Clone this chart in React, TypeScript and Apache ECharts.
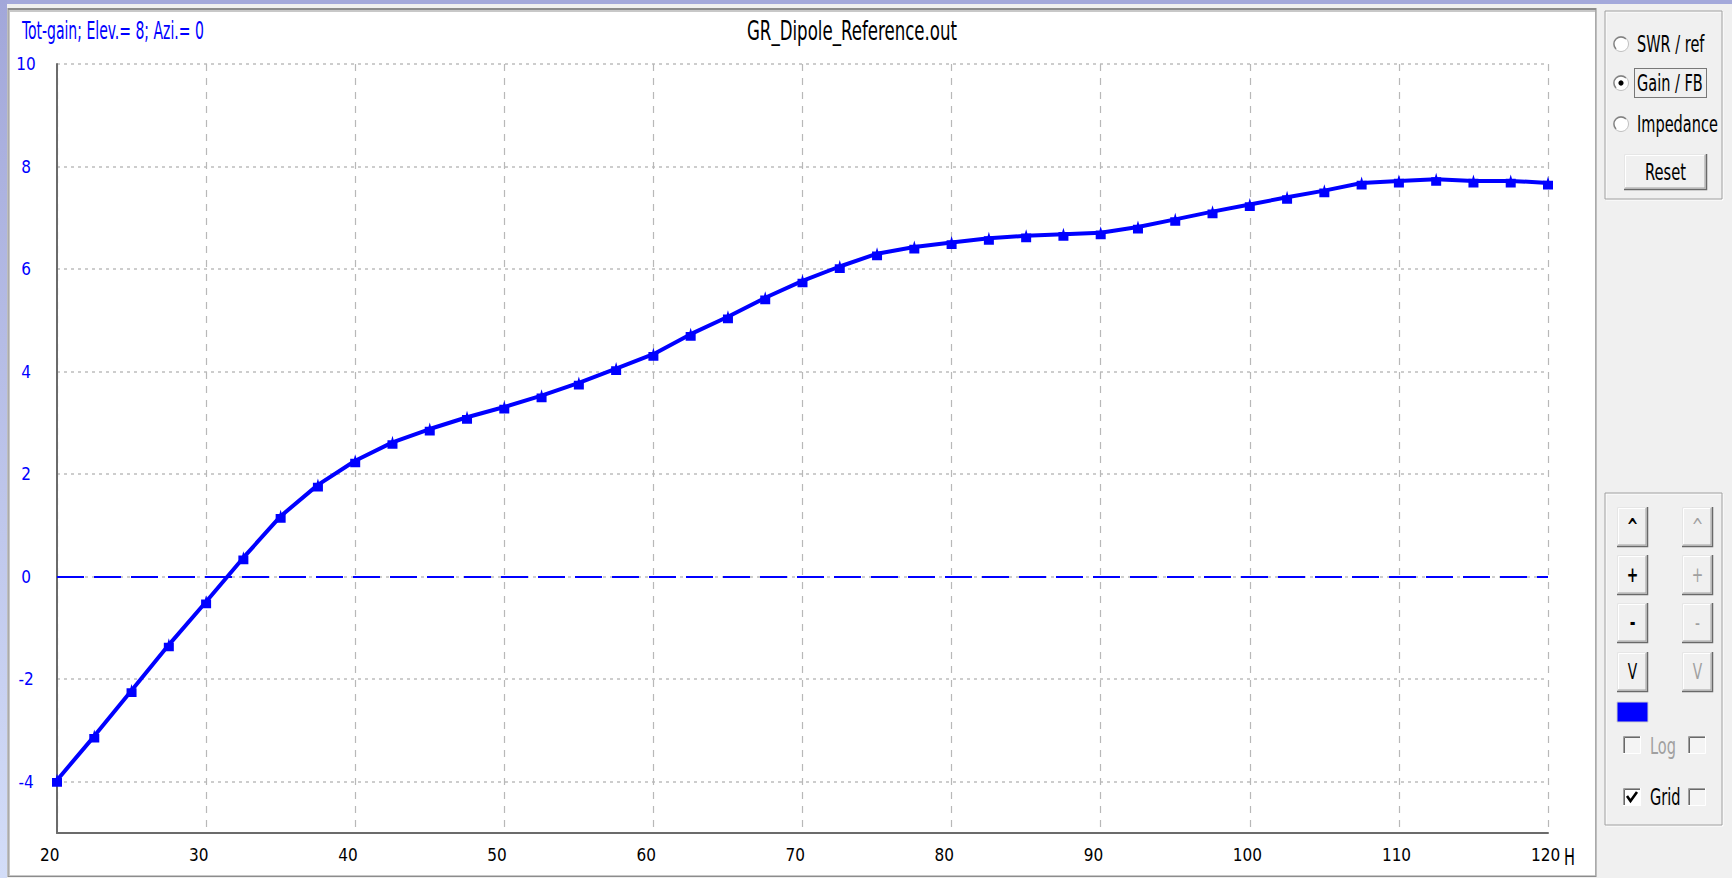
import React, { useEffect, useRef } from "react";
import * as echarts from "echarts";

const frequencies = [20, 22.5, 25, 27.5, 30, 32.5, 35, 37.5, 40, 42.5, 45, 47.5, 50, 52.5, 55, 57.5, 60, 62.5, 65, 67.5, 70, 72.5, 75, 77.5, 80, 82.5, 85, 87.5, 90, 92.5, 95, 97.5, 100, 102.5, 105, 107.5, 110, 112.5, 115, 117.5, 120];
const gainValues = [-3.97, -3.11, -2.22, -1.33, -0.49, 0.37, 1.18, 1.79, 2.26, 2.62, 2.88, 3.11, 3.31, 3.53, 3.78, 4.06, 4.34, 4.73, 5.07, 5.44, 5.77, 6.05, 6.3, 6.43, 6.52, 6.6, 6.65, 6.68, 6.71, 6.82, 6.97, 7.12, 7.26, 7.4, 7.53, 7.68, 7.72, 7.75, 7.72, 7.72, 7.68];
const referenceLine = [0];
const xRange = [20, 120];
const yRange = [-5, 10];
const titleText = "GR_Dipole_Reference.out";
const subtitleText = "Tot-gain; Elev.= 8; Azi.= 0";
const xUnit = "H";
const radioLabels = ["SWR / ref", "Gain / FB", "Impedance"];
const leftButtons = ["^", "+", "-", "V"];
const checkLabels = ["Log", "Grid"];

const FONT = "'Liberation Sans Narrow', 'DejaVu Sans Condensed', 'Arial Narrow', sans-serif";

function txt(text: string, x: number, y: number, opts: any = {}) {
  const align = opts.align || "left";
  return {
    type: "text",
    x,
    y,
    scaleX: opts.scaleX ?? 0.86,
    scaleY: opts.scaleY ?? 1.25,
    z: 20,
    style: {
      text,
      fill: opts.fill || "#000000",
      fontSize: opts.fontSize || 19,
      fontFamily: FONT,
      fontWeight: opts.fontWeight || "normal",
      align,
      verticalAlign: "middle",
      textAlign: align,
      textVerticalAlign: "middle",
    },
  };
}

function bevel(x: number, y: number, w: number, h: number) {
  return [
    { type: "rect", z: 15, shape: { x, y, width: w, height: h }, style: { fill: "#f0f0f0" } },
    { type: "polyline", z: 16, shape: { points: [[x + 0.5, y + h - 1], [x + 0.5, y + 0.5], [x + w - 1, y + 0.5]] }, style: { stroke: "#e6e6e6", lineWidth: 1, fill: null } },
    { type: "polyline", z: 16, shape: { points: [[x + 1.5, y + h - 2], [x + 1.5, y + 1.5], [x + w - 2, y + 1.5]] }, style: { stroke: "#ffffff", lineWidth: 1, fill: null } },
    { type: "polyline", z: 16, shape: { points: [[x, y + h - 0.5], [x + w - 0.5, y + h - 0.5], [x + w - 0.5, y]] }, style: { stroke: "#696969", lineWidth: 1.5, fill: null } },
    { type: "polyline", z: 16, shape: { points: [[x + 1, y + h - 2], [x + w - 2, y + h - 2], [x + w - 2, y + 1]] }, style: { stroke: "#a0a0a0", lineWidth: 1, fill: null } },
  ];
}

function checkbox(x: number, y: number, checked: boolean, enabled: boolean) {
  const s = 18;
  const els: any[] = [
    { type: "rect", z: 15, shape: { x, y, width: s, height: s }, style: { fill: enabled ? "#ffffff" : "#f4f4f4" } },
    { type: "polyline", z: 16, shape: { points: [[x + 0.5, y + s], [x + 0.5, y + 0.5], [x + s, y + 0.5]] }, style: { stroke: "#a0a0a0", lineWidth: 1, fill: null } },
    { type: "polyline", z: 16, shape: { points: [[x + 1.5, y + s - 1], [x + 1.5, y + 1.5], [x + s - 1, y + 1.5]] }, style: { stroke: "#696969", lineWidth: 1, fill: null } },
    { type: "polyline", z: 16, shape: { points: [[x, y + s - 0.5], [x + s - 0.5, y + s - 0.5], [x + s - 0.5, y]] }, style: { stroke: "#ffffff", lineWidth: 1, fill: null } },
  ];
  if (checked) {
    els.push({ type: "polyline", z: 17, shape: { points: [[x + 4, y + 8], [x + 7.5, y + 13], [x + 14, y + 4]] }, style: { stroke: "#000000", lineWidth: 2.6, fill: null } });
  }
  return els;
}

function radio(cx: number, cy: number, selected: boolean) {
  const els: any[] = [
    { type: "circle", z: 15, shape: { cx, cy, r: 7.5 }, style: { fill: "#ffffff", stroke: "#c0c0c0", lineWidth: 1 } },
    { type: "arc", z: 16, shape: { cx, cy, r: 7, startAngle: Math.PI * 0.75, endAngle: Math.PI * 1.75 }, style: { stroke: "#808080", lineWidth: 1.3, fill: null } },
  ];
  if (selected) {
    els.push({ type: "circle", z: 17, shape: { cx, cy, r: 2.6 }, style: { fill: "#000000" } });
  }
  return els;
}

function groupBox(x: number, y: number, w: number, h: number) {
  return [
    { type: "rect", z: 14, shape: { x: x + 1, y: y + 1, width: w, height: h }, style: { fill: null, stroke: "#ffffff", lineWidth: 1 } },
    { type: "rect", z: 14, shape: { x, y, width: w, height: h }, style: { fill: null, stroke: "#a0a0a0", lineWidth: 1 } },
  ];
}

function buildChrome() {
  const els: any[] = [];
  els.push({ type: "rect", z: -20, shape: { x: 0, y: 0, width: 1732, height: 878 }, style: { fill: "#f0f0f0" } });
  els.push({ type: "rect", z: -19, shape: { x: 0, y: 0, width: 1732, height: 4 }, style: { fill: "#a4a9db" } });
  els.push({
    type: "rect", z: -19, shape: { x: 0, y: 0, width: 7, height: 878 },
    style: { fill: new echarts.graphic.LinearGradient(0, 0, 0, 1, [{ offset: 0, color: "#a2a7d9" }, { offset: 1, color: "#d3ddf8" }]) },
  });
  els.push({ type: "rect", z: -18, shape: { x: 7.5, y: 8, width: 1589, height: 869 }, style: { fill: "#8c8c8c" } });
  els.push({ type: "rect", z: -18, shape: { x: 8.5, y: 10, width: 1587, height: 866 }, style: { fill: "#c8c8c8" } });
  els.push({ type: "rect", z: -17, shape: { x: 10, y: 12, width: 1585, height: 863 }, style: { fill: "#ffffff" } });
  els.push(txt(subtitleText, 22, 31, { fill: "#0000ff", fontSize: 19, scaleX: 0.82, scaleY: 1.3 }));
  els.push(txt(titleText, 852, 31, { fontSize: 22, scaleX: 0.84, scaleY: 1.22, align: "center" }));
  els.push(txt(xUnit, 1564, 857, { fontSize: 18, scaleX: 0.9, scaleY: 1.3 }));

  els.push(...groupBox(1605, 11, 117, 188));
  const radioY = [44, 83, 124];
  radioLabels.forEach((l, i) => {
    els.push(...radio(1621, radioY[i], i === 1));
    els.push(txt(l, 1637, radioY[i], { fontSize: 19, scaleX: 0.85, scaleY: 1.25 }));
  });
  els.push({ type: "rect", z: 16, shape: { x: 1634.5, y: radioY[1] - 14.5, width: 72, height: 29 }, style: { fill: null, stroke: "#000000", lineWidth: 1, lineDash: [1, 1] } });
  els.push(...bevel(1624, 154, 83, 36));
  els.push(txt("Reset", 1665.5, 172, { fontSize: 19, scaleX: 0.86, scaleY: 1.25, align: "center" }));

  els.push(...groupBox(1605, 493, 117, 332));
  const rowY = [507, 555, 603, 652];
  leftButtons.forEach((l, i) => {
    els.push(...bevel(1617, rowY[i], 31, 40));
    els.push(...bevel(1682, rowY[i], 31, 40));
    els.push(txt(l, 1632.5, rowY[i] + 20, { fontSize: 17, scaleX: 0.9, scaleY: 1.2, align: "center", fontWeight: i < 3 ? "bold" : "normal" }));
    els.push(txt(l, 1697.5, rowY[i] + 20, { fontSize: 17, scaleX: 0.9, scaleY: 1.2, align: "center", fill: "#a0a0a0" }));
  });
  els.push({ type: "rect", z: 15, shape: { x: 1617, y: 702, width: 31, height: 20 }, style: { fill: "#0000ff", stroke: "#d0d0d0", lineWidth: 1 } });
  els.push(...checkbox(1623, 736, false, false));
  els.push(txt(checkLabels[0], 1650, 746, { fontSize: 19, scaleX: 0.85, scaleY: 1.25, fill: "#a0a0a0" }));
  els.push(...checkbox(1688, 736, false, false));
  els.push(...checkbox(1623, 788, true, true));
  els.push(txt(checkLabels[1], 1650, 797, { fontSize: 19, scaleX: 0.85, scaleY: 1.25 }));
  els.push(...checkbox(1688, 788, false, false));
  return els;
}

export default function App() {
  const ref = useRef<HTMLDivElement>(null);
  useEffect(() => {
    if (!ref.current) return;
    const chart = echarts.init(ref.current, null, { renderer: "svg", width: 1732, height: 878 });
    const seriesData = frequencies.map((f, i) => [f, gainValues[i]]);
    chart.setOption({
      animation: false,
      backgroundColor: "#f0f0f0",
      grid: { left: 57, right: 184, top: 64, bottom: 45, containLabel: false },
      xAxis: {
        type: "value",
        min: xRange[0],
        max: xRange[1],
        interval: 10,
        axisLine: { show: true, onZero: false, lineStyle: { color: "#6b6b6b", width: 2 } },
        axisTick: { show: false },
        axisLabel: {
          color: "#000000",
          fontSize: 17,
          fontFamily: FONT,
          margin: 13,
          align: "left",
          padding: [0, 0, 0, -17],
        },
        splitLine: { show: true, lineStyle: { color: "#b8b8b8", width: 1.2, type: [7, 7] } },
      },
      yAxis: {
        type: "value",
        min: yRange[0],
        max: yRange[1],
        splitNumber: 7,
        axisLine: { show: true, onZero: false, lineStyle: { color: "#6b6b6b", width: 2 } },
        axisTick: { show: false },
        axisLabel: {
          color: "#0000ff",
          fontSize: 17,
          fontFamily: FONT,
          margin: 31,
          align: "center",
          padding: [0, 0, 4, 0],
          formatter: (v: number) => (v === yRange[0] ? "" : String(v)),
        },
        splitLine: { show: true, lineStyle: { color: "#bdbdbd", width: 1.5, type: [3, 4] } },
      },
      graphic: { elements: buildChrome() },
      series: [
        {
          type: "line",
          data: seriesData,
          z: 3,
          lineStyle: { color: "#0000ff", width: 4 },
          itemStyle: { color: "#0000ff" },
          symbol: "path://M0,4 L3,4 L4,0 L5,4 L8,4 L8,12 L0,12 Z",
          symbolSize: [10, 13],
          showSymbol: true,
          markLine: {
            silent: true,
            symbol: "none",
            label: { show: false },
            lineStyle: { color: "#0000ff", width: 2, type: [27, 10] },
            data: referenceLine.map((v) => ({ yAxis: v })),
          },
        },
      ],
    });
    return () => chart.dispose();
  }, []);
  return (
    <div style={{ position: "fixed", left: 0, top: 0, width: 1732, height: 878 }}>
      <div ref={ref} style={{ width: 1732, height: 878 }} />
    </div>
  );
}
